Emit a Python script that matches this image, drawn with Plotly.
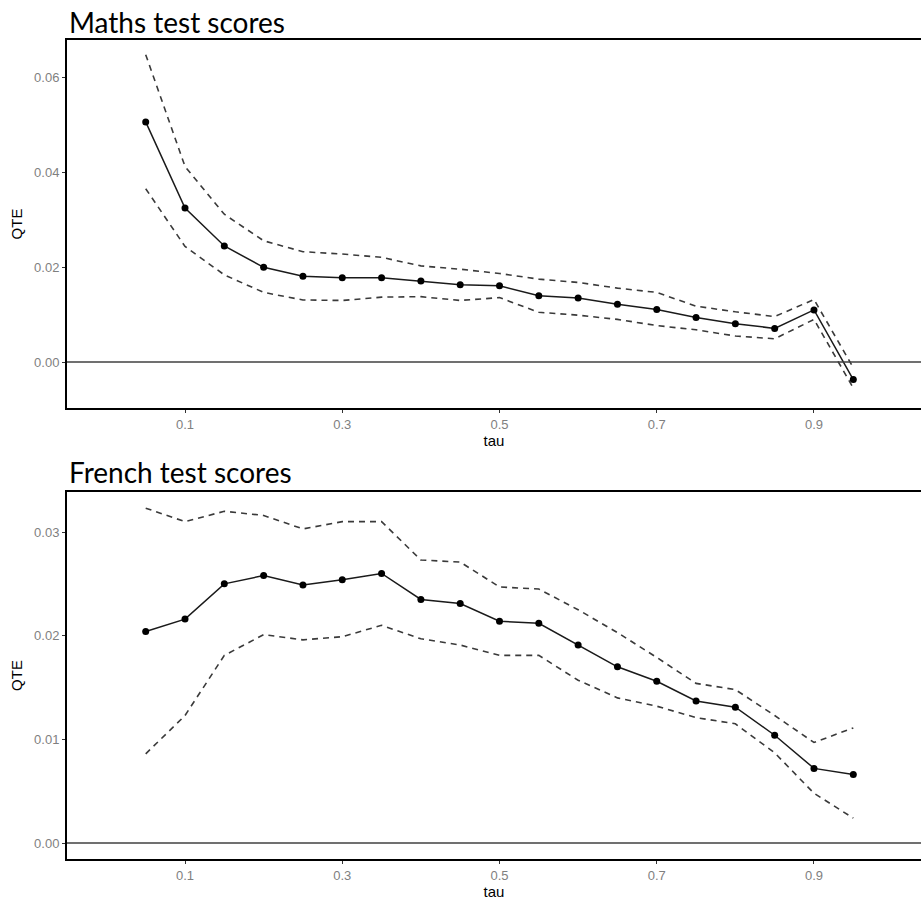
import plotly.graph_objects as go
from plotly.subplots import make_subplots

tau = [0.05, 0.10, 0.15, 0.20, 0.25, 0.30, 0.35, 0.40, 0.45, 0.50,
       0.55, 0.60, 0.65, 0.70, 0.75, 0.80, 0.85, 0.90, 0.95]

maths_qte = [0.0507, 0.0325, 0.0245, 0.0200, 0.0181, 0.0178, 0.0178, 0.0171, 0.0163, 0.0161,
             0.0140, 0.0135, 0.0122, 0.0111, 0.0094, 0.0081, 0.0071, 0.0110, -0.0037]
maths_upper = [0.0649, 0.0413, 0.0312, 0.0256, 0.0233, 0.0228, 0.0221, 0.0203, 0.0196, 0.0187,
               0.0175, 0.0168, 0.0156, 0.0147, 0.0118, 0.0106, 0.0096, 0.0132, -0.0012]
maths_lower = [0.0366, 0.0244, 0.0184, 0.0147, 0.0131, 0.0130, 0.0137, 0.0138, 0.0130, 0.0136,
               0.0105, 0.0099, 0.0090, 0.0077, 0.0068, 0.0055, 0.0049, 0.0090, -0.0055]

french_qte = [0.0204, 0.0216, 0.0250, 0.0258, 0.0249, 0.0254, 0.0260, 0.0235, 0.0231, 0.0214,
              0.0212, 0.0191, 0.0170, 0.0156, 0.0137, 0.0131, 0.0104, 0.0072, 0.0066]
french_upper = [0.0323, 0.0310, 0.0320, 0.0316, 0.0303, 0.0310, 0.0310, 0.0273, 0.0271, 0.0247,
                0.0245, 0.0225, 0.0203, 0.0179, 0.0154, 0.0148, 0.0123, 0.0097, 0.0111]
french_lower = [0.0086, 0.0123, 0.0181, 0.0201, 0.0196, 0.0199, 0.0210, 0.0197, 0.0191, 0.0181,
                0.0181, 0.0157, 0.0140, 0.0132, 0.0121, 0.0115, 0.0087, 0.0048, 0.0024]

titles = ["Maths test scores", "French test scores"]
x_ticks = [0.1, 0.3, 0.5, 0.7, 0.9]
y_ticks_top = [0.00, 0.02, 0.04, 0.06]
y_ticks_bottom = [0.00, 0.01, 0.02, 0.03]

fig = make_subplots(rows=2, cols=1)

panels = [
    (maths_qte, maths_upper, maths_lower),
    (french_qte, french_upper, french_lower),
]
for i, (q, up, lo) in enumerate(panels, start=1):
    for band in (up, lo):
        fig.add_trace(go.Scatter(x=tau, y=band, mode="lines",
                                 line=dict(color="#3a3a3a", width=1.6, dash="6px,5px"),
                                 showlegend=False, hoverinfo="skip"), row=i, col=1)
    fig.add_trace(go.Scatter(x=tau, y=q, mode="lines+markers",
                             line=dict(color="#1a1a1a", width=1.5),
                             marker=dict(color="black", size=7),
                             showlegend=False), row=i, col=1)
    fig.add_hline(y=0, line=dict(color="#404040", width=1.5), row=i, col=1)

H = 902
t, b = 40, 43
ph = H - t - b

def dom(top_px, bot_px):
    return [(H - b - bot_px) / ph, (H - b - top_px) / ph]

xcommon = dict(range=[-0.0501, 1.0361], tickvals=x_ticks, ticktext=[str(v) for v in x_ticks],
               showgrid=False, zeroline=False, showline=True, linecolor="black", linewidth=2,
               mirror=True, ticks="outside", ticklen=3, tickcolor="#333333", tickwidth=1,
               tickfont=dict(family="Liberation Sans, Arial", size=13, color="#7f7f7f"),
               title=dict(text="tau", font=dict(family="Liberation Sans, Arial", size=15, color="black"),
                          standoff=1))
ycommon = dict(showgrid=False, zeroline=False, showline=True, linecolor="black", linewidth=2,
               ticks="outside", ticklen=3, tickcolor="#333333", tickwidth=1,
               tickfont=dict(family="Liberation Sans, Arial", size=13, color="#7f7f7f"),
               title=dict(text="QTE", font=dict(family="Liberation Sans, Arial", size=15, color="black"),
                          standoff=8))

fig.update_layout(
    width=921, height=902,
    margin=dict(l=67, r=0, t=t, b=b),
    paper_bgcolor="white", plot_bgcolor="white",
    xaxis=dict(domain=[0, 1], **xcommon),
    xaxis2=dict(domain=[0, 1], **xcommon),
    yaxis=dict(domain=dom(40, 408), range=[-0.00971, 0.0680], tickvals=y_ticks_top,
               ticktext=["%.2f" % v for v in y_ticks_top], **ycommon),
    yaxis2=dict(domain=dom(492, 859), range=[-0.00154, 0.03386], tickvals=y_ticks_bottom,
                ticktext=["%.2f" % v for v in y_ticks_bottom], **ycommon),
)

for title, ypix in zip(titles, [22, 472]):
    fig.add_annotation(text=title, xref="paper", yref="paper", x=0, y=(H - b - ypix) / ph,
                       xanchor="left", yanchor="middle", showarrow=False, xshift=0,
                       font=dict(family="Lato", size=28, color="black"))

fig.write_html("out.html")
